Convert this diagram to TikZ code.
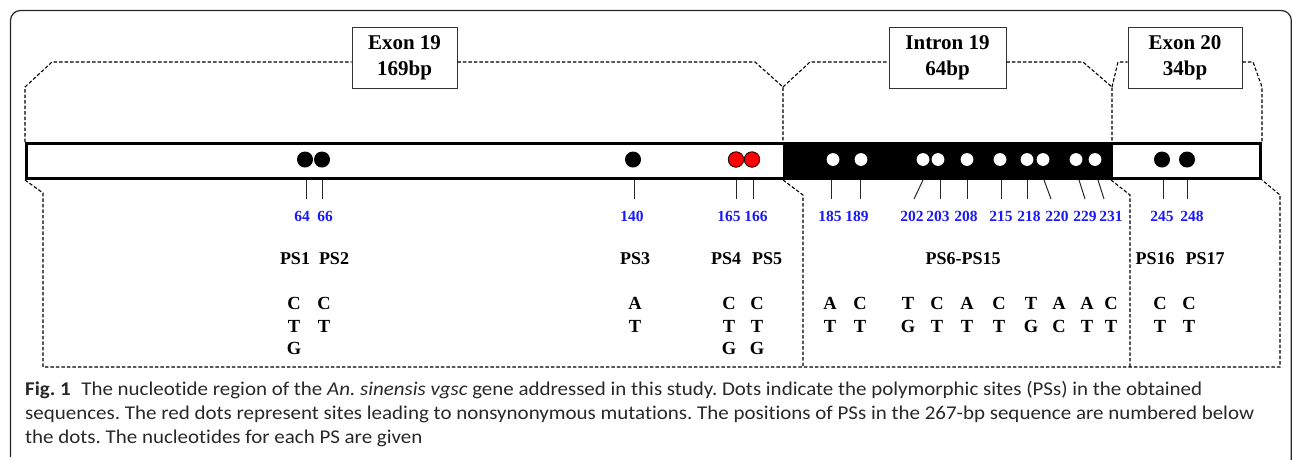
\documentclass[tikz,border=0pt]{standalone}
\usepackage{fontspec}
\usepackage{graphicx}
\setmainfont{Liberation Serif}
\newfontfamily\capfont[Ligatures=NoCommon]{Carlito}
\definecolor{numblue}{RGB}{25,25,250}
\definecolor{capgray}{RGB}{40,40,40}
\newlength\capwd
\newcommand\capstyle{\frenchspacing\capfont\fontsize{19.5}{24}\selectfont\color{capgray}}
\newcommand\caplineA{\textbf{Fig.~1}\hspace{0.5em}The nucleotide region of the \textit{An. sinensis vgsc} gene addressed in this study. Dots indicate the polymorphic sites (PSs) in the obtained}
\newcommand\caplineB{sequences. The red dots represent sites leading to nonsynonymous mutations. The positions of PSs in the 267-bp sequence are numbered below}
\newcommand\caplineC{the dots. The nucleotides for each PS are given}
\tikzset{
  frame/.style={draw=black!85, line width=1.2},
  bracket/.style={draw=black, line width=1.1, dash pattern=on 3.5pt off 2pt},
  regionbox/.style={draw=black!80, line width=0.9, fill=white, inner sep=0,
    minimum height=61, align=center,
    font=\fontsize{21}{26}\selectfont\bfseries},
  exdot/.style={circle, fill=black, inner sep=0, minimum size=16},
  nsdot/.style={circle, fill=red, draw=black, line width=0.8, inner sep=0, minimum size=15.5},
  indot/.style={circle, fill=white, inner sep=0, minimum size=12.8},
  tick/.style={draw=black!85, line width=1},
  posnum/.style={inner sep=0, text=numblue, font=\fontsize{15.5}{18}\selectfont\bfseries},
  psname/.style={inner sep=0, font=\fontsize{18}{22}\selectfont\bfseries},
  base/.style={inner sep=0, font=\fontsize{18.5}{22}\selectfont\bfseries},
  capline/.style={anchor=base west, inner sep=0},
}
\begin{document}
\begin{tikzpicture}[x=1pt, y=-1pt]
\useasboundingbox (0,0) rectangle (1292,459);

% outer figure frame, open at the bottom
\draw[frame, rounded corners=10] (10.5,457) -- (10.5,10.5) -- (1291.3,10.5) -- (1291.3,470);

% region labels
\node[regionbox, minimum width=105] (ex19) at (404.5,57.5) {Exon 19\\169bp};
\node[regionbox, minimum width=117] (in19) at (947.5,57.5) {Intron 19\\64bp};
\node[regionbox, minimum width=114] (ex20) at (1185,58) {Exon 20\\34bp};

% gene bar: exon 19 (white), intron 19 (black), exon 20 (white)
\draw[line width=3, fill=white] (26.5,143.2) rectangle (1260.5,178.5);
\fill[black] (783,141.7) rectangle (1110,180);
\draw[line width=3, fill=white] (1111.5,143.2) rectangle (1260.5,178.5);

% upper dashed brackets
\coordinate (up) at (0,62);
\draw[bracket] (25,142) -- (25,87) -- (52,62) -- (ex19.west |- up);
\draw[bracket] (ex19.east |- up) -- (755,62) -- (783,87) -- (783,142);
\draw[bracket] (783,87) -- (810,62) -- (in19.west |- up);
\draw[bracket] (in19.east |- up) -- (1083,62) -- (1112,87) -- (1112,142);
\draw[bracket] (1112,87) -- (1118,62) -- (ex20.west |- up);
\draw[bracket] (ex20.east |- up) -- (1253,62) -- (1262,87) -- (1262,142);

% lower dashed brackets
\draw[bracket] (25,180) -- (43,193) -- (43,367) -- (1280,367) -- (1280,195) -- (1262,180);
\draw[bracket] (783,180) -- (803,195) -- (803,367);
\draw[bracket] (1111,180) -- (1130,195) -- (1130,367);

% polymorphic sites: dot, tick and position number
\foreach \n/\dx/\ds/\ta/\tb/\lx in {
  64/305/exdot/306/306/302, 66/322/exdot/322/322/325,
  140/633/exdot/634/634/632,
  165/736/nsdot/736/736/729, 166/752/nsdot/753/753/756,
  185/833/indot/831/831/830, 189/861/indot/860/860/857,
  202/923/indot/923/914/912, 203/938/indot/940/940/938,
  208/967/indot/967/967/966, 215/1000/indot/1001/1001/1001,
  218/1027/indot/1027/1027/1029, 220/1043/indot/1044/1051/1057,
  229/1076/indot/1079/1085/1085, 231/1095/indot/1098/1104/1111,
  245/1162/exdot/1163/1163/1162, 248/1187/exdot/1187/1187/1192}{
  \node[\ds] (d\n) at (\dx,159.5) {};
  \coordinate (ta\n) at (\ta,180);
  \coordinate (tb\n) at (\tb,199);
  \draw[tick] (ta\n) -- (tb\n);
  \node[posnum] (p\n) at (\lx,216) {\n};
}

% site names
\node[psname] (ps1) at (295,258.5) {PS1};
\node[psname] (ps2) at (334,258.5) {PS2};
\node[psname] (ps3) at (635,258.5) {PS3};
\node[psname] (ps4) at (726,258.5) {PS4};
\node[psname] (ps5) at (767,258.5) {PS5};
\node[psname] (ps6) at (963,258.5) {PS6-PS15};
\node[psname] (ps16) at (1155,258.5) {PS16};
\node[psname] (ps17) at (1205,258.5) {PS17};

% nucleotides observed at each site
\foreach \k/\cx/\nts in {
  1/294/{C,T,G}, 2/324/{C,T}, 3/635/{A,T}, 4/729/{C,T,G}, 5/757/{C,T,G},
  6/830/{A,T}, 7/860/{C,T}, 8/908/{T,G}, 9/937/{C,T}, 10/967/{A,T},
  11/999/{C,T}, 12/1031/{T,G}, 13/1059/{A,C}, 14/1087/{A,T}, 15/1111/{C,T},
  16/1160/{C,T}, 17/1189/{C,T}}{
  \foreach \b [count=\r] in \nts {
    \node[base] (nt\k-\r) at (\cx,{303.5+22.7*(\r-1)}) {\b};
  }
}

% caption, fitted to the column width
\node[capline] (cap1) at (25,395) {\resizebox{1177pt}{\height}{\capstyle\caplineA}};
\node[capline] (cap2) at (25,419) {\resizebox{1229pt}{\height}{\capstyle\caplineB}};
\node[capline] (cap3) at (25,443) {\settowidth{\capwd}{\capstyle\caplineA}%
  \pgfmathsetmacro\capsx{1177/\capwd}\scalebox{\capsx}[1]{\capstyle\caplineC}};
\end{tikzpicture}
\end{document}
